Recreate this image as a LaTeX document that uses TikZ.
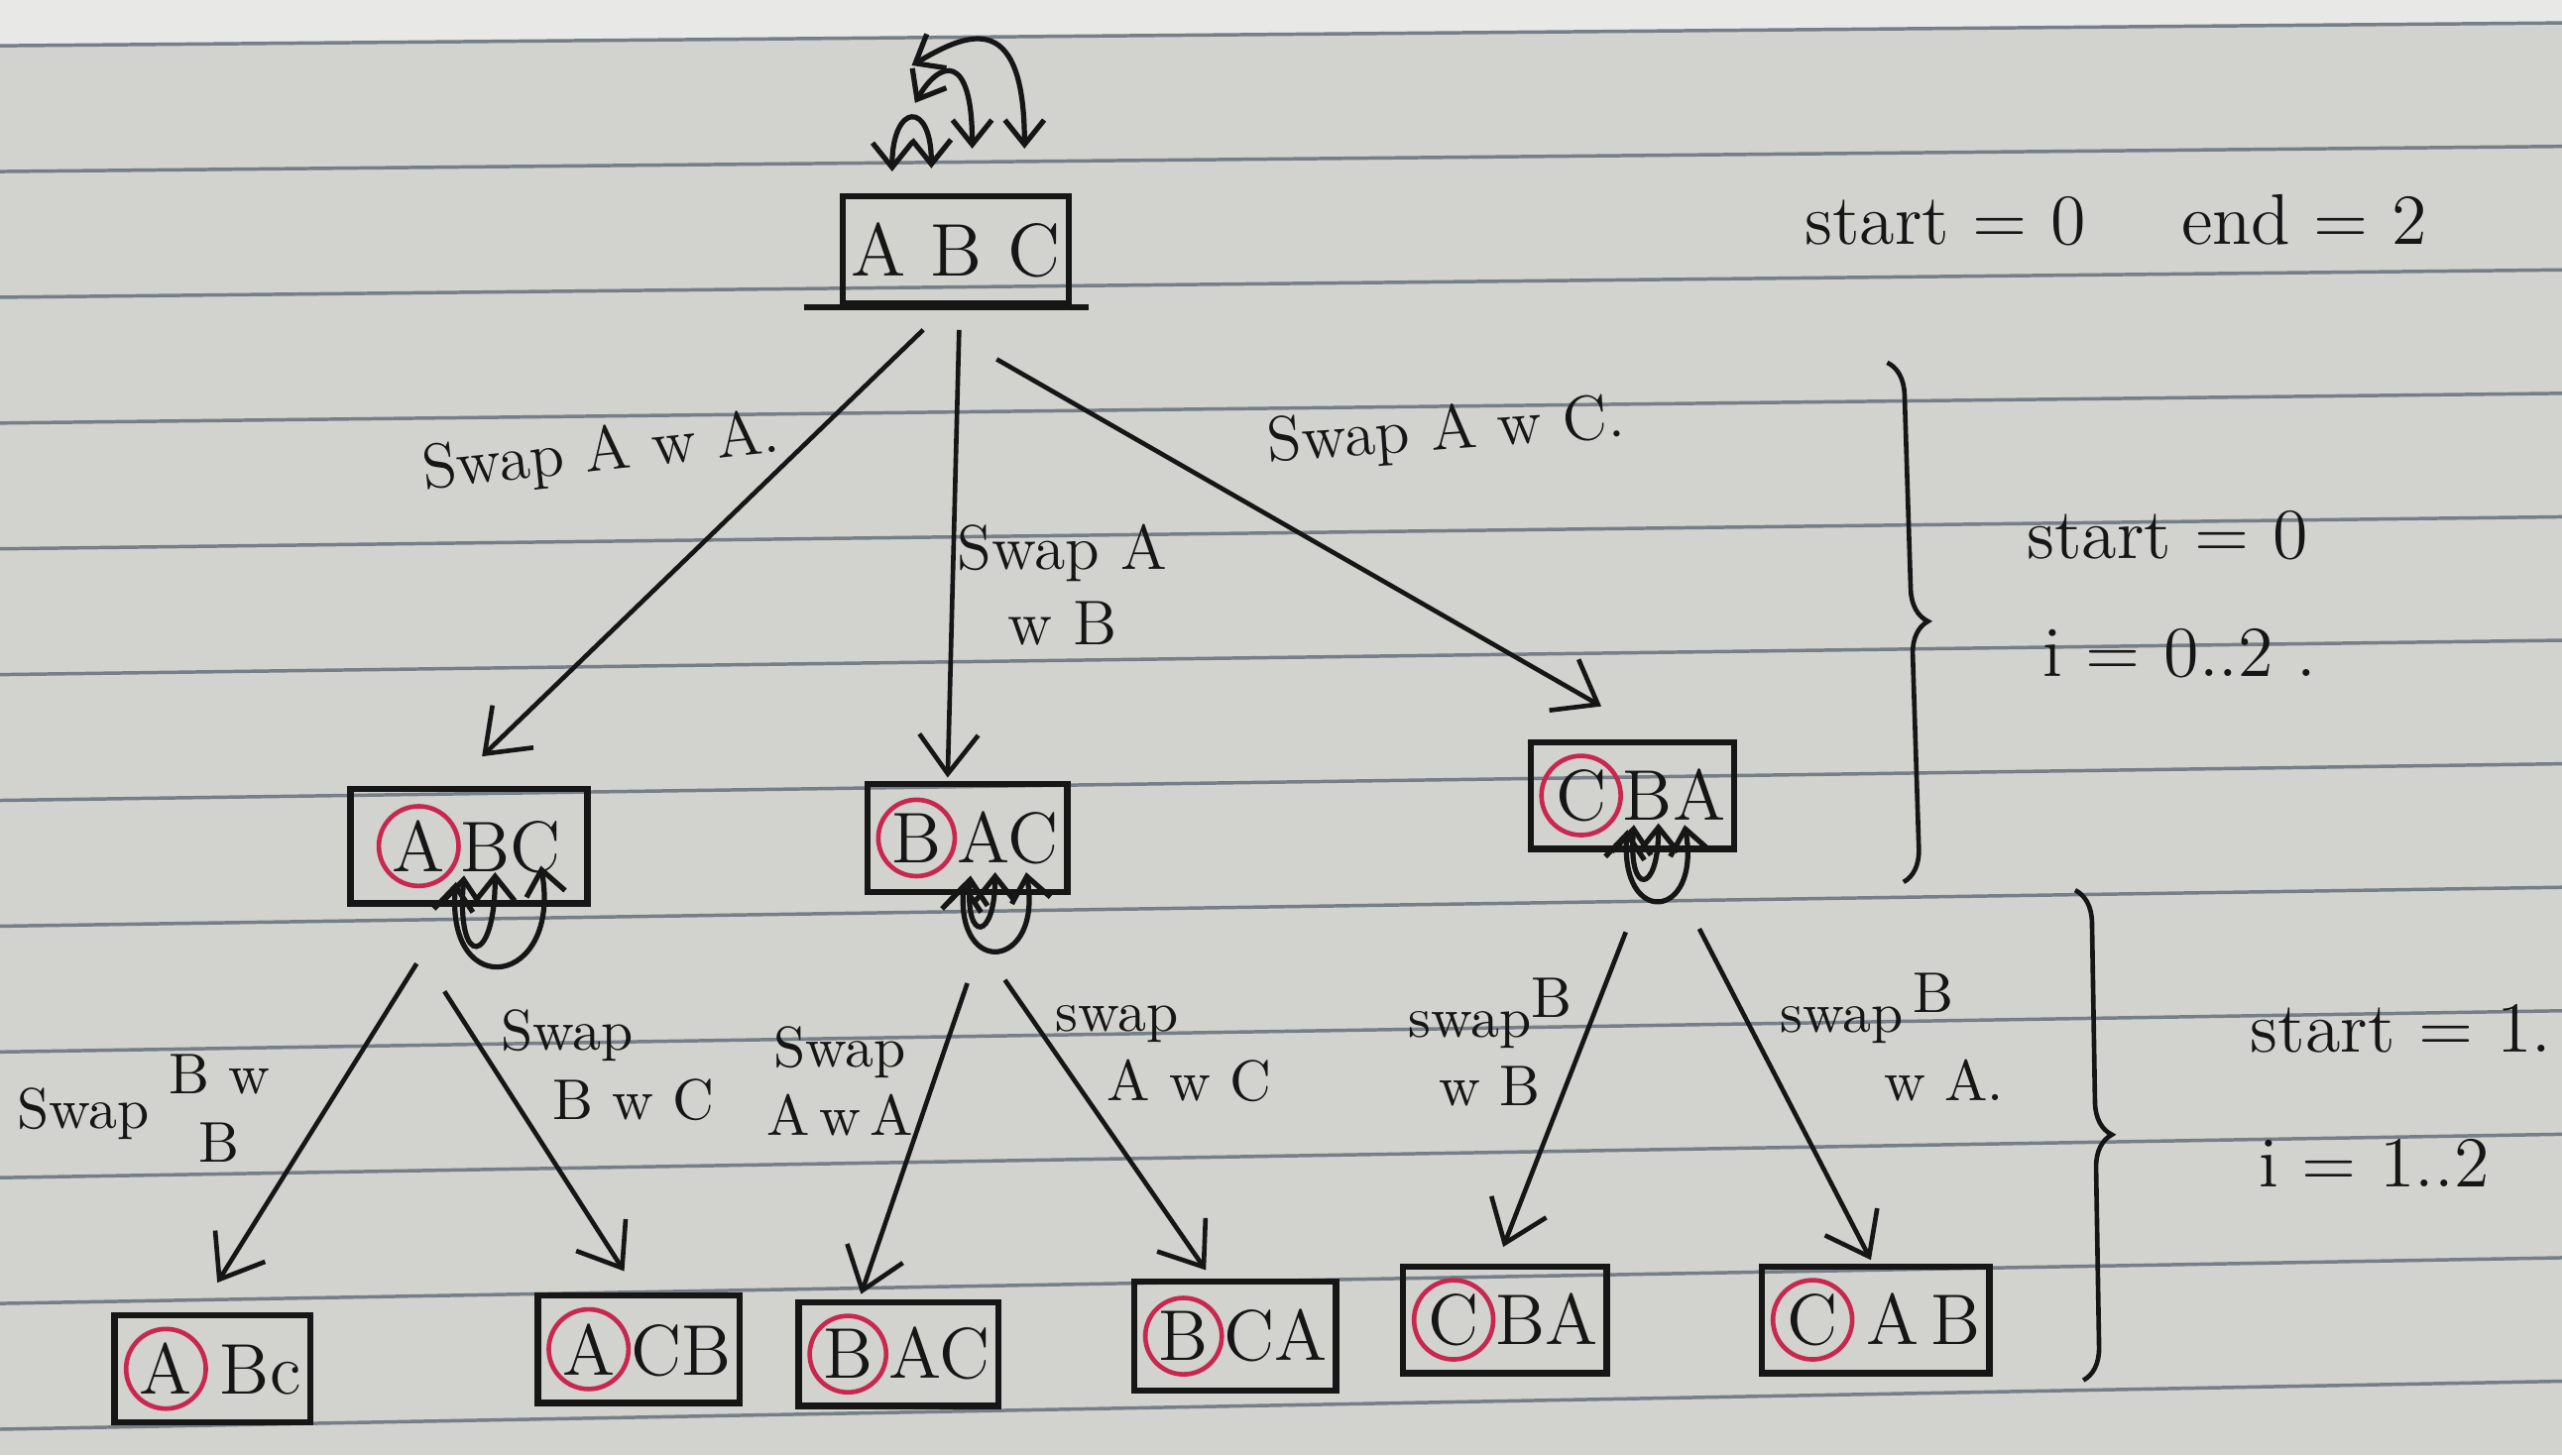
\documentclass[tikz,border=0pt]{standalone}
\usepackage{tikz}
\usetikzlibrary{arrows.meta,decorations.pathreplacing}

\definecolor{paper}{RGB}{210,210,206}
\definecolor{paperedge}{RGB}{232,232,230}
\definecolor{rule}{RGB}{118,126,136}
\definecolor{ink}{RGB}{22,22,22}
\definecolor{penred}{RGB}{200,40,80}

% red ring round the fixed first letter
\newcommand{\redring}[1]{\tikz[baseline=(rr.base)]\node[draw=penred,line width=0.8pt,circle,inner sep=0.4pt,minimum width=0pt,minimum height=0pt,anchor=center](rr){#1};}

\begin{document}
\begin{tikzpicture}[
    box/.style={draw=ink, line width=1.1pt, inner xsep=1.5pt, inner ysep=2pt, font=\fontsize{12.5}{15}\selectfont, text=ink},
    arr/.style={draw=ink, line width=0.8pt, -{Straight Barb[length=2.4mm,width=3.6mm]}},
    swaparr/.style={draw=ink, line width=0.9pt, {Straight Barb[length=1.5mm,width=2.4mm]}-{Straight Barb[length=1.5mm,width=2.4mm]}},
    lbl/.style={font=\fontsize{11}{13}\selectfont, text=ink, align=left},
    sublbl/.style={font=\fontsize{10}{12}\selectfont, text=ink, align=left},
    note/.style={font=\fontsize{12.5}{15}\selectfont, text=ink, anchor=west},
]
    % Paper and ruled lines
    \useasboundingbox (0,0) rectangle (15.68,-8.91);
    \fill[paper] (0,0) rectangle (15.68,-8.91);
    \fill[paperedge] (0,0) -- (15.68,0) -- (15.68,-0.14) -- (0,-0.28) -- cycle;
    \foreach \k in {0,...,11} {
        \draw[rule, line width=0.6pt] (0,{-0.28-0.77*\k}) -- (15.68,{-0.14-0.756*\k});
    }

    % Root
    \node[box, minimum width=1.26cm, minimum height=0.66cm, font=\fontsize{13}{16}\selectfont] (root) at (5.85,-1.53) {A\,\,B\,\,C};
    \draw[ink, line width=1.1pt] ([xshift=-0.22cm]root.south west) -- ([xshift=0.1cm]root.south east);

    % Swaps at the root (A w A, A w B, A w C)
    \draw[swaparr] ([shift={(-0.39,0.48)}]root.center) to[out=90,in=90,distance=0.42cm] ([shift={(-0.15,0.50)}]root.center);
    \draw[swaparr] ([shift={(-0.25,0.90)}]root.center) to[out=60,in=90,out distance=0.3cm,in distance=0.6cm] ([shift={(0.10,0.62)}]root.center);
    \draw[swaparr] ([shift={(-0.27,1.13)}]root.center) to[out=30,in=90,out distance=0.35cm,in distance=0.9cm] ([shift={(0.42,0.62)}]root.center);

    % Level 1
    \node[box, minimum width=1.45cm, minimum height=0.70cm] (l1a) at (2.87,-5.18) {\redring{A}BC};
    \node[box, minimum width=1.10cm, minimum height=0.66cm] (l1b) at (5.92,-5.13) {\redring{B}AC};
    \node[box, minimum width=1.12cm, minimum height=0.58cm] (l1c) at (9.99,-4.87) {\redring{C}BA};

    \draw[arr] ([shift={(-0.20,-0.14)}]root.south) -- ([shift={(0.08,0.18)}]l1a.north);
    \draw[arr] ([shift={(0.02,-0.14)}]root.south) -- ([shift={(-0.12,0.02)}]l1b.north);
    \draw[arr] ([shift={(0.25,-0.32)}]root.south) -- ([shift={(-0.19,0.20)}]l1c.north);

    \node[lbl, rotate=6] (sw1) at (3.68,-2.78) {Swap A w A.};
    \node[lbl, align=center] (sw2) at (6.50,-3.58) {Swap A\\w B};
    \node[lbl, rotate=4] (sw3) at (8.85,-2.65) {Swap A w C.};

    % Swaps under level 1
    \draw[swaparr] ([shift={(-0.03,-0.18)}]l1a.center) to[out=-95,in=-90,distance=0.58cm] ([shift={(0.16,-0.16)}]l1a.center);
    \draw[swaparr] ([shift={(-0.08,-0.22)}]l1a.center) to[out=-95,in=-80,distance=0.75cm] ([shift={(0.44,-0.12)}]l1a.center);
    \draw[swaparr] ([shift={(0.02,-0.23)}]l1b.center) to[out=-95,in=-90,distance=0.42cm] ([shift={(0.17,-0.21)}]l1b.center);
    \draw[swaparr] ([shift={(-0.02,-0.27)}]l1b.center) to[out=-95,in=-80,distance=0.60cm] ([shift={(0.36,-0.21)}]l1b.center);
    \draw[swaparr] ([shift={(0.01,-0.18)}]l1c.center) to[out=-95,in=-90,distance=0.44cm] ([shift={(0.16,-0.17)}]l1c.center);
    \draw[swaparr] ([shift={(-0.03,-0.21)}]l1c.center) to[out=-95,in=-80,distance=0.60cm] ([shift={(0.32,-0.18)}]l1c.center);

    % Level 2
    \node[box, minimum width=1.20cm, minimum height=0.60cm] (l2a) at (1.30,-8.38) {\redring{A}\,Bc};
    \node[box, minimum width=1.02cm, minimum height=0.62cm] (l2b) at (3.91,-8.26) {\redring{A}CB};
    \node[box, minimum width=1.05cm, minimum height=0.62cm] (l2c) at (5.50,-8.29) {\redring{B}AC};
    \node[box, minimum width=1.03cm, minimum height=0.67cm] (l2d) at (7.56,-8.18) {\redring{B}CA};
    \node[box, minimum width=0.93cm, minimum height=0.65cm] (l2e) at (9.21,-8.08) {\redring{C}BA};
    \node[box, minimum width=1.13cm, minimum height=0.55cm] (l2f) at (11.48,-8.08) {\redring{C}\,A\,B};

    \draw[arr] ([shift={(-0.32,-0.35)}]l1a.south) -- ([shift={(0.03,0.18)}]l2a.north);
    \draw[arr] ([shift={(-0.15,-0.52)}]l1a.south) -- ([shift={(-0.09,0.13)}]l2b.north);
    \draw[arr] ([shift={(0.00,-0.54)}]l1b.south) -- ([shift={(-0.23,0.03)}]l2c.north);
    \draw[arr] ([shift={(0.23,-0.52)}]l1b.south) -- ([shift={(-0.18,0.05)}]l2d.north);
    \draw[arr] ([shift={(-0.04,-0.49)}]l1c.south) -- ([shift={(-0.01,0.10)}]l2e.north);
    \draw[arr] ([shift={(0.41,-0.47)}]l1c.south) -- ([shift={(-0.03,0.02)}]l2f.north);

    \node[sublbl] (sw4) at (0.88,-6.82) {Swap \begin{tabular}{@{}c@{}}B w\\B\end{tabular}};
    \node[sublbl] (sw5) at (3.72,-6.52) {Swap\\\hspace{0.9em}B w C};
    \node[sublbl, align=center] (sw6) at (5.14,-6.62) {Swap\\A\,w\,A};
    \node[sublbl] (sw7) at (7.12,-6.45) {swap\\\hspace{0.9em}A w C};
    \node[sublbl, align=center] (sw8) at (9.12,-6.38) {swap\raisebox{0.8ex}{B}\\w B};
    \node[sublbl] (sw9) at (11.58,-6.35) {swap\,\raisebox{0.8ex}{B}\\\hspace{1.8em}w A.};

    % Notes on the right
    \node[note] (ends) at (10.92,-1.35) {start = 0 \quad end = 2};
    \draw[ink, line width=0.8pt, decorate, decoration={brace,amplitude=2mm}] (11.55,-2.22) -- (11.65,-5.40);
    \node[note] (st0) at (12.28,-3.28) {start = 0};
    \node[note] (it0) at (12.38,-4.00) {i = 0..2 .};
    \draw[ink, line width=0.8pt, decorate, decoration={brace,amplitude=2mm}] (12.70,-5.45) -- (12.75,-8.45);
    \node[note] (st1) at (13.65,-6.30) {start = 1.};
    \node[note] (it1) at (13.70,-7.12) {i = 1..2};
\end{tikzpicture}
\end{document}
